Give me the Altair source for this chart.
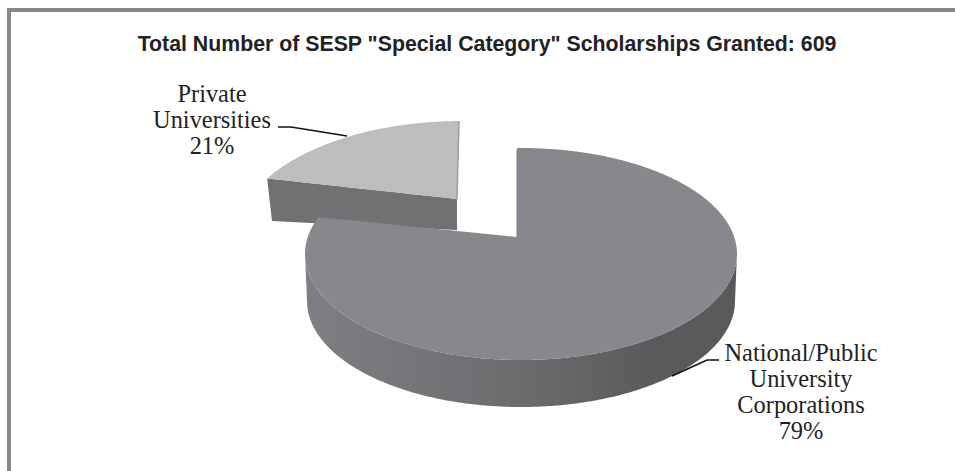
import altair as alt
import numpy as np
import pandas as pd

# Chart content
title_text = 'Total Number of SESP "Special Category" Scholarships Granted: 609'
shares = {"public": 79, "private": 21}
private_lines = ["Private", "Universities", "21%"]
public_lines = ["National/Public", "University", "Corporations", "79%"]

# Colours
FRAME = "#87888b"
PUBLIC_TOP = "#87888b"
PRIVATE_TOP = "#bcbdbf"
PRIVATE_SIDE = "#717174"
INK = "#222224"

# View geometry of the tilted pie, in canvas units
W, H = 955, 471
TOP = dict(cx=521.0, cy=254.0, a=216.0, b=106.0)
BASE = dict(cx=521.0, cy=301.0, a=214.0, b=106.0)
PUBLIC_APEX = (517.0, 237.0)
PUBLIC_SKEW = 6.0          # perspective shift of the cut, in degrees
PRIVATE = dict(cx=462.0, cy=236.0, a=225.0, b=115.0)
PRIVATE_SKEW = 15.6
PRIVATE_APEX = (457.0, 199.0)
PRIVATE_TIP = (459.0, 121.0)
PRIVATE_DEPTH_LEFT = (272.0, 221.0)
PRIVATE_DEPTH_RIGHT = (456.0, 230.0)


def rim(e, x, sign):
    u = np.clip((x - e["cx"]) / e["a"], -1, 1)
    return e["cy"] + sign * e["b"] * np.sqrt(1 - u * u)


def lerp(p, q, x):
    return p[1] + (q[1] - p[1]) * (x - p[0]) / (q[0] - p[0])


def public_side():
    th = np.radians(np.linspace(180, 0, 300))
    xs = TOP["cx"] + TOP["a"] * np.cos(th)
    left = (TOP["cx"] - TOP["a"], TOP["cy"])
    right = (TOP["cx"] + TOP["a"], TOP["cy"])
    b_left = BASE["cx"] - BASE["a"]
    b_right = BASE["cx"] + BASE["a"]
    rows = []
    for x in xs:
        if x < b_left:
            low = lerp(left, (b_left, BASE["cy"]), x)
        elif x > b_right:
            low = lerp((b_right, BASE["cy"]), right, x)
        else:
            low = rim(BASE, x, 1)
        rows.append(dict(x=x, y=rim(TOP, x, 1), y2=low))
    return pd.DataFrame(rows)


def public_top():
    t_end = np.radians(-90 + shares["public"] * 3.6 + PUBLIC_SKEW)
    end_x = TOP["cx"] + TOP["a"] * np.cos(t_end)
    end = (end_x, TOP["cy"] + TOP["b"] * np.sin(t_end))
    th = np.radians(np.linspace(180, 0, 500))
    grid = TOP["cx"] + TOP["a"] * np.cos(th)
    rows = []
    for x in grid[grid < end_x]:
        rows.append(dict(x=x, y=rim(TOP, x, -1), y2=rim(TOP, x, 1)))
    for x in np.append(grid[(grid >= end_x) & (grid < PUBLIC_APEX[0])], PUBLIC_APEX[0]):
        rows.append(dict(x=x, y=lerp(end, PUBLIC_APEX, x), y2=rim(TOP, x, 1)))
    notch = PUBLIC_APEX[0] + 0.01
    rows.append(dict(x=notch, y=rim(TOP, notch, -1), y2=rim(TOP, notch, 1)))
    for x in grid[grid > notch]:
        rows.append(dict(x=x, y=rim(TOP, x, -1), y2=rim(TOP, x, 1)))
    return pd.DataFrame(rows)


def private_corner():
    t = np.radians(270 - shares["private"] * 3.6 + PRIVATE_SKEW)
    x = PRIVATE["cx"] + PRIVATE["a"] * np.cos(t)
    return (x, PRIVATE["cy"] + PRIVATE["b"] * np.sin(t))


def private_top():
    corner = private_corner()
    rows = []
    for x in np.linspace(corner[0], PRIVATE_APEX[0], 160):
        rows.append(dict(x=x, y=rim(PRIVATE, x, -1), y2=lerp(corner, PRIVATE_APEX, x)))
    for x in np.linspace(PRIVATE_APEX[0] + 0.01, PRIVATE_TIP[0], 4):
        rows.append(dict(x=x, y=rim(PRIVATE, x, -1), y2=lerp(PRIVATE_APEX, PRIVATE_TIP, x)))
    return pd.DataFrame(rows)


def private_side():
    corner = private_corner()
    rows = [dict(x=corner[0], y=corner[1], y2=corner[1])]
    for x in np.linspace(PRIVATE_DEPTH_LEFT[0], PRIVATE_DEPTH_RIGHT[0], 20):
        rows.append(dict(x=x, y=lerp(corner, PRIVATE_APEX, x),
                         y2=lerp(PRIVATE_DEPTH_LEFT, PRIVATE_DEPTH_RIGHT, x)))
    rows.append(dict(x=PRIVATE_APEX[0], y=PRIVATE_APEX[1], y2=PRIVATE_DEPTH_RIGHT[1]))
    return pd.DataFrame(rows)


x_enc = alt.X("x:Q", axis=None, scale=alt.Scale(domain=[0, W], nice=False, zero=False))
y_enc = alt.Y("y:Q", axis=None, scale=alt.Scale(domain=[H, 0], nice=False, zero=False))


def face(df, **style):
    return alt.Chart(df).mark_area(orient="vertical", **style).encode(
        x=x_enc, y=y_enc, y2="y2:Q"
    )


def path(points, color, width):
    df = pd.DataFrame(points, columns=["x", "y"]).assign(i=lambda d: range(len(d)))
    return alt.Chart(df).mark_line(color=color, strokeWidth=width).encode(
        x=x_enc, y=y_enc, order="i:O"
    )


def caption(lines, center, first_y, step, font, size, weight="normal"):
    df = pd.DataFrame({
        "x": [center] * len(lines),
        "y": [first_y + k * step for k in range(len(lines))],
        "t": lines,
    })
    return alt.Chart(df).mark_text(
        font=font, fontSize=size, fontWeight=weight, color=INK,
        align="center", baseline="middle",
    ).encode(x=x_enc, y=y_enc, text="t:N")


wall_fill = alt.Gradient(
    gradient="linear", x1=0, x2=1, y1=0, y2=0,
    stops=[
        alt.GradientStop(color="#7e7f82", offset=0),
        alt.GradientStop(color="#6c6c6f", offset=0.5),
        alt.GradientStop(color="#5a5a5d", offset=0.8),
        alt.GradientStop(color="#59595b", offset=1),
    ],
)

chart = alt.layer(
    path([(9, 471), (9, 10), (W, 10)], FRAME, 4),
    face(private_side(), color=PRIVATE_SIDE),
    face(private_top(), color=PRIVATE_TOP),
    path([PRIVATE_TIP, PRIVATE_APEX], "#9d9ea0", 1.5),
    face(public_side(), color=wall_fill),
    face(public_top(), color=PUBLIC_TOP),
    path([(517, 150), (517, 237)], "#77787a", 1),
    path([(278, 127), (291, 127), (347, 136)], "#111111", 1.6),
    path([(672, 376), (707, 360), (719, 360)], "#111111", 1.6),
    caption([title_text], 487, 45, 0, "Liberation Sans", 21.3, "bold"),
    caption(private_lines, 212, 95, 26, "Liberation Serif", 24.4),
    caption(public_lines, 801, 354, 26, "Liberation Serif", 24.4),
).properties(
    width=W, height=H, padding=0, background="white",
    autosize=alt.AutoSizeParams(type="none"),
).configure_view(stroke=None)

chart.save("out.html", embed_options={"renderer": "svg", "actions": False})
